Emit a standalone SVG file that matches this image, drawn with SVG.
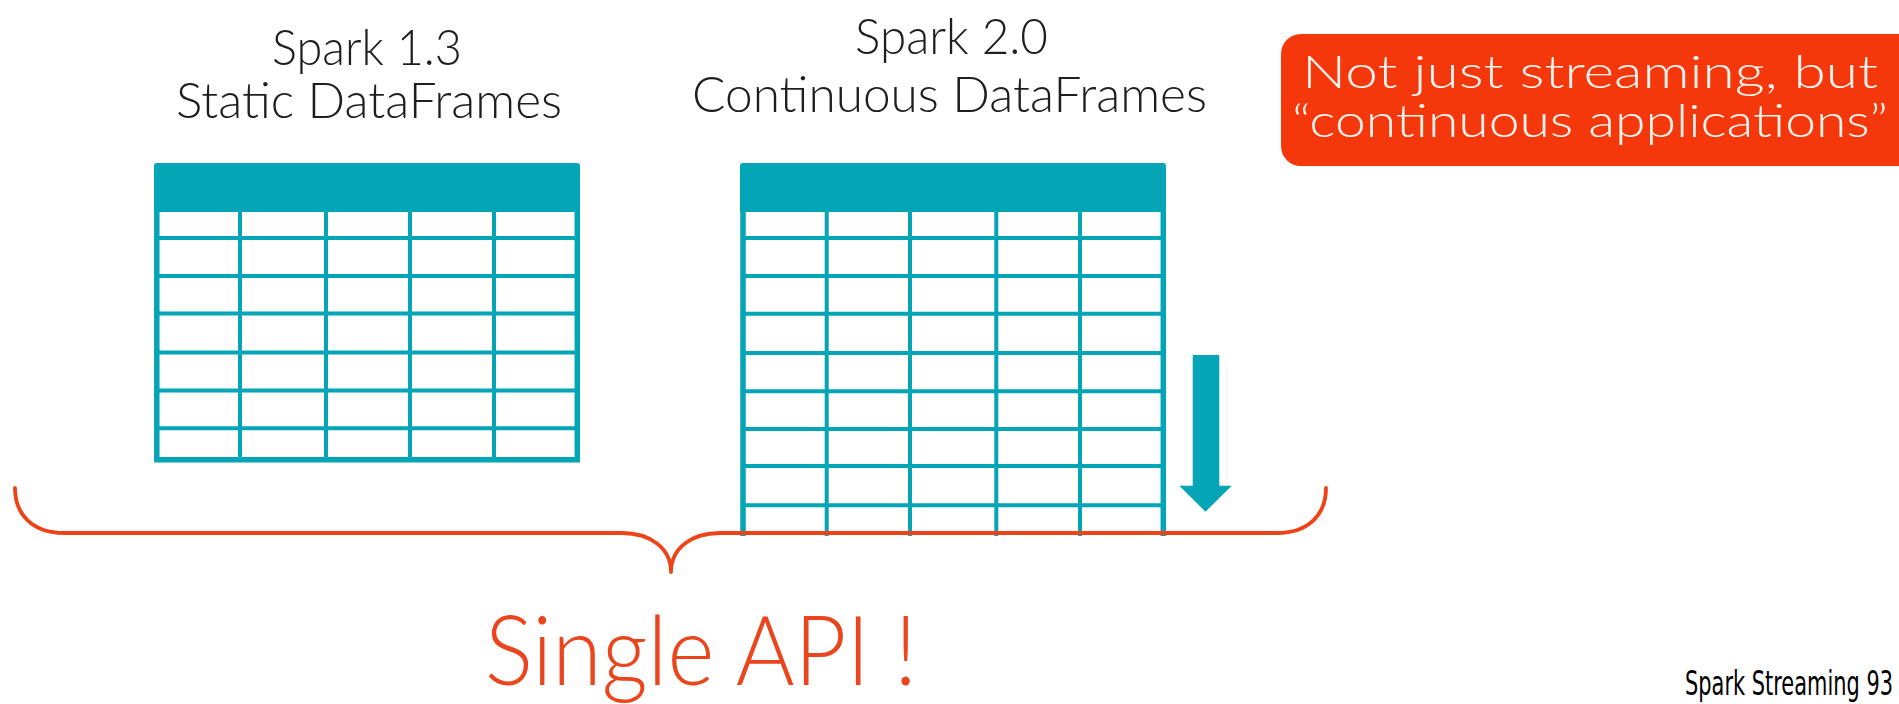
<svg xmlns="http://www.w3.org/2000/svg" width="1899" height="704" viewBox="0 0 1899 704">
<style>
.title{font-family:Lato,"Open Sans","Liberation Sans",sans-serif;font-weight:300;fill:#1e1e1e;font-size:50px}
.grid{stroke:#03A5B6;stroke-width:4;fill:none}
.border{stroke:#03A5B6;stroke-width:5.5;fill:none}
.head{fill:#03A5B6}
.brace{stroke:#EE4319;stroke-width:3.8;fill:none;stroke-linecap:round;stroke-linejoin:round}
.note{font-family:Lato,"Open Sans","Liberation Sans",sans-serif;font-weight:300;fill:#FFF3EE;font-size:46px}
.big{font-family:Lato,"Open Sans","Liberation Sans",sans-serif;font-weight:300;fill:#EA451D;font-size:96px}
.footer{font-family:"DejaVu Sans","Liberation Sans",sans-serif;font-stretch:condensed;fill:#000;font-size:34px}
</style>
<rect width="1899" height="704" fill="#fff"/>

<g id="title-static">
<text class="title" x="272" y="65" textLength="190" lengthAdjust="spacingAndGlyphs">Spark 1.3</text>
<text class="title" x="176" y="118" textLength="386" lengthAdjust="spacingAndGlyphs">Static DataFrames</text>
</g>

<g id="title-continuous">
<text class="title" x="855" y="54" textLength="193" lengthAdjust="spacingAndGlyphs">Spark 2.0</text>
<text class="title" x="692" y="112" textLength="515" lengthAdjust="spacingAndGlyphs">Continuous DataFrames</text>
</g>

<g id="static-table">
<path class="head" d="M154,212 V166 Q154,163 157,163 H577 Q580,163 580,166 V212 Z"/>
<path class="grid" d="M157,238 H577 M157,276 H577 M157,313.5 H577 M157,352.5 H577 M157,390.5 H577 M157,428.3 H577 M240,212 V459 M326,212 V459 M410,212 V459 M494,212 V459"/>
<path class="border" d="M156.8,166 V459.8 H577.3 V166"/>
</g>

<g id="continuous-table">
<path class="head" d="M740,212 V166 Q740,163 743,163 H1163 Q1166,163 1166,166 V212 Z"/>
<path class="grid" d="M743,238 H1163 M743,276 H1163 M743,313.7 H1163 M743,353 H1163 M743,391.3 H1163 M743,429 H1163 M743,466 H1163 M743,505.3 H1163 M826.7,212 V536 M910,212 V536 M996.3,212 V536 M1080,212 V536"/>
<path class="border" d="M743,166 V536 M1163.3,166 V536"/>
</g>

<g id="arrow">
<rect class="head" x="1192.7" y="355" width="26.6" height="131"/>
<polygon class="head" points="1179.3,485.7 1231.7,485.7 1205.5,511.7"/>
</g>

<g id="connectors">
<path class="brace" d="M15,488 C15,515 33,533 64,533 L622,533 C650,533 671,548 671,572 C671,548 692,533 720,533 L1277,533 C1308,533 1326,515 1326,488"/>
</g>

<g id="note">
<rect x="1281" y="34" width="660" height="132" rx="20" ry="20" fill="#F5380B"/>
<text class="note" x="1302" y="88" textLength="576" lengthAdjust="spacingAndGlyphs">Not just streaming, but</text>
<text class="note" x="1292" y="137" textLength="596" lengthAdjust="spacingAndGlyphs">“continuous applications”</text>
</g>

<g id="single-api">
<text class="big" x="485" y="685" textLength="432" lengthAdjust="spacingAndGlyphs">Single API !</text>
</g>

<g id="footer">
<text class="footer" x="1685" y="695" textLength="208" lengthAdjust="spacingAndGlyphs">Spark Streaming 93</text>
</g>
</svg>
